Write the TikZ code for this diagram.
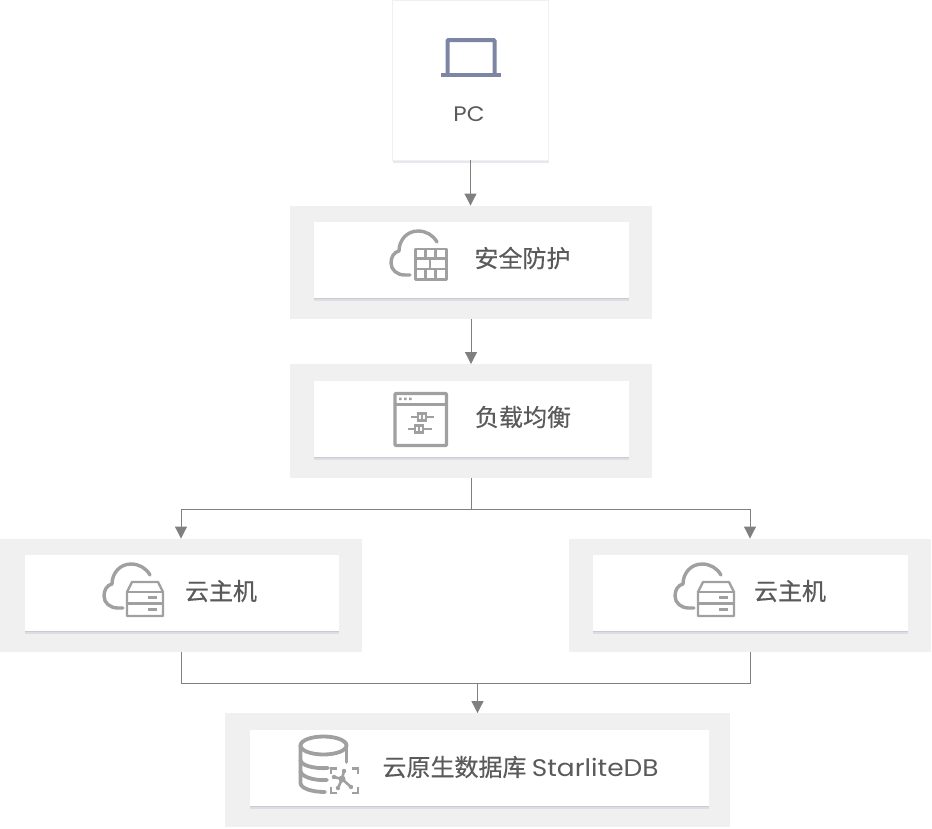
\documentclass[tikz,border=0pt]{standalone}
\usepackage{fontspec}
\usepackage{xcolor}
\setmainfont{Poppins}[FakeStretch=1.1]
\newfontfamily\cjk{Noto Sans CJK SC}[FakeBold=0.4]
\usetikzlibrary{arrows.meta,shadows}
\definecolor{zone}{HTML}{F0F0F0}
\definecolor{linkgrey}{HTML}{808080}
\definecolor{icongrey}{HTML}{A0A0A0}
\definecolor{laptopblue}{HTML}{7C86A4}
\definecolor{textgrey}{HTML}{5A5A5A}
\definecolor{edgeblue}{HTML}{B9BECF}

\begin{document}
\begin{tikzpicture}[x=1pt, y=-1pt]
\tikzset{
  zonebox/.style={fill=zone, minimum width=362pt, minimum height=113.5pt, inner sep=0pt},
  cardshadow/.style={drop shadow={shadow xshift=0pt, shadow yshift=-2.5pt, opacity=.35, fill=edgeblue}, drop shadow={shadow xshift=0pt, shadow yshift=-1.2pt, opacity=.6, fill=edgeblue}},
  card/.style={fill=white, minimum width=315pt, minimum height=76pt, inner sep=0pt, cardshadow},
  caption/.style={text=textgrey, font=\fontsize{24}{27}\selectfont\cjk, inner sep=0pt},
  arrowline/.style={draw=linkgrey, line width=1pt, -{Triangle[width=12pt, length=12pt]}},
  wire/.style={draw=linkgrey, line width=1pt},
  iconline/.style={draw=icongrey, line width=3.4pt, line join=round},
  iconthin/.style={draw=icongrey, line width=2.4pt, line join=round},
  cloudicon/.pic={
    \draw[iconline, line cap=round] (46,11) .. controls (42,4) and (35,0) .. (27,0) .. controls (16,0) and (8,9) .. (8,20) .. controls (3,21) and (0,26) .. (0,32) .. controls (0,39) and (6,44) .. (14,44) -- (19,44);
  },
  hosticon/.pic={
    \draw[iconthin] (0,10) -- (5,0) -- (31,0) -- (36,10) -- (36,34) -- (0,34) -- cycle;
    \draw[iconthin] (0,10) -- (36,10) (0,21.5) -- (36,21.5);
    \draw[iconthin] (21,15.5) -- (30,15.5) (21,27.5) -- (30,27.5);
  },
}
\path[use as bounding box] (0,0) rectangle (932,828);

\node[fill=white, draw=zone, line width=.6pt, minimum width=156pt, minimum height=160pt, inner sep=0pt, cardshadow] (pc) at (470.5,80) {};
\node[zonebox] (guard) at (471,262.5) {};
\node[card] (guardcard) at (471.5,260) {};
\node[zonebox] (balance) at (471,421) {};
\node[card] (balancecard) at (471.5,419) {};
\node[zonebox] (hostl) at (181,595.5) {};
\node[card, minimum width=314pt] (hostlcard) at (182,593) {};
\node[zonebox] (hostr) at (750,595.5) {};
\node[card] (hostrcard) at (750.5,593) {};
\node[zonebox, minimum width=505pt] (db) at (477.5,770) {};
\node[card, minimum width=459pt] (dbcard) at (479.5,768) {};

\node[text=textgrey, font=\fontsize{21}{24}\selectfont, inner sep=0pt] (pclabel) at (469,114) {PC};
\node[caption] (guardlabel) at (522.5,258) {安全防护};
\node[caption] (balancelabel) at (523,417) {负载均衡};
\node[caption] (hostllabel) at (221,591) {云主机};
\node[caption] (hostrlabel) at (790,591) {云主机};
\node[caption] (dblabel) at (520.5,767) {云原生数据库 {\rmfamily StarliteDB}};

\coordinate (split) at (471,509);
\coordinate (merge) at (477.5,683);
\draw[arrowline] (pc.south) -- (pc.south |- guard.north);
\draw[arrowline] (guard.south) -- (balance.north);
\draw[wire] (balance.south) -- (split);
\draw[arrowline] (split) -| (hostl.north);
\draw[arrowline] (split) -| (hostr.north);
\draw[wire] (hostl.south) |- (merge);
\draw[wire] (hostr.south) |- (merge);
\draw[arrowline] (merge) -- (db.north);

\draw[draw=laptopblue, line width=4pt, rounded corners=1pt] (447.5,75) -- (447.5,40) -- (494.5,40) -- (494.5,75);
\fill[laptopblue] (441,73) rectangle (501,77);

\pic at (391,231) {cloudicon};
\draw[iconthin] (415.5,249) rectangle (446.5,279.5);
\draw[iconthin] (415.5,258.5) -- (446.5,258.5) (415.5,269) -- (446.5,269);
\draw[iconthin] (425.5,249) -- (425.5,258.5) (435.5,249) -- (435.5,258.5) (430,258.5) -- (430,269) (425.5,269) -- (425.5,279.5) (435.5,269) -- (435.5,279.5);

\draw[iconline, rounded corners=1pt] (395,393.5) rectangle (446.5,445.5);
\draw[iconthin] (395,404.5) -- (446.5,404.5);
\fill[icongrey] (399,397.5) rectangle +(2.5,2.5) (404,397.5) rectangle +(2.5,2.5) (409,397.5) rectangle +(2.5,2.5);
\draw[draw=icongrey, line width=2.2pt] (411,417) -- (418,417) (426,417) -- (434,417) (408,429) -- (415,429) (423,429) -- (432,429);
\draw[draw=icongrey, line width=2.2pt] (418,413.5) rectangle (426,420.5) (415,425.5) rectangle (423,432.5);
\draw[draw=icongrey, line width=1.6pt] (422,413.5) -- (422,420.5) (419,425.5) -- (419,432.5);

\pic at (104,564) {cloudicon};
\pic at (127,582) {hosticon};
\pic at (675,564) {cloudicon};
\pic at (698,582) {hosticon};

\draw[iconline, line width=3.8pt] (323.5,745.5) ellipse (23pt and 9pt);
\draw[iconline, line width=3.8pt, line cap=round] (300.5,745.5) -- (300.5,783) .. controls (300.5,788) and (311,792) .. (325,792);
\draw[iconline, line width=3.8pt, line cap=round] (346.5,745.5) -- (346.5,762);
\draw[iconline, line width=3.8pt, line cap=round] (300.5,760) .. controls (300.5,765) and (313,769) .. (328,768);
\draw[iconline, line width=3.8pt, line cap=round] (300.5,771) .. controls (300.5,776) and (313,781) .. (327,780);
\draw[draw=icongrey, line width=2.6pt] (331,774) -- (331,768.5) -- (337,768.5) (352,768.5) -- (358,768.5) -- (358,774) (358,787) -- (358,793) -- (352,793) (337,793) -- (331,793) -- (331,787);
\draw[draw=icongrey, line width=2.6pt] (342,779) -- (344,771) (342,779) -- (334,777) (342,779) -- (351,787) (342,779) -- (338,788);
\fill[icongrey] (342,779) circle (3.5pt) (344,771) circle (2.2pt) (334,777) circle (2.2pt) (351,787) circle (2.2pt) (338,788) circle (2.2pt);
\end{tikzpicture}
\end{document}
